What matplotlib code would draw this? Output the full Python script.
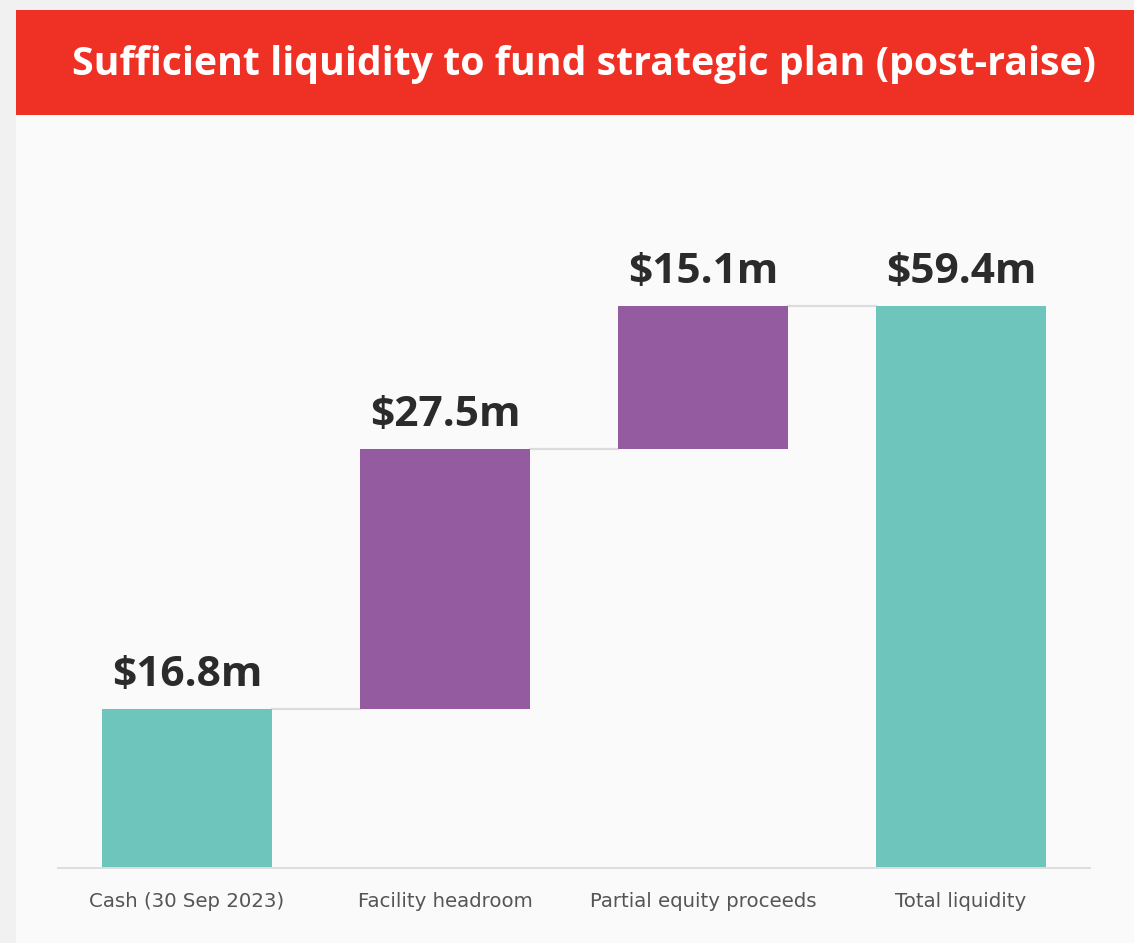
import matplotlib.pyplot as plt
from matplotlib.patches import Rectangle

# data
categories = ['Cash (30 Sep 2023)', 'Facility headroom', 'Partial equity proceeds', 'Total liquidity']
values = [16.8, 27.5, 15.1, 59.4]
kinds = ['total', 'step', 'step', 'total']
labels = ['$16.8m', '$27.5m', '$15.1m', '$59.4m']

teal = '#6dc5bb'
purple = '#955ba1'
red = '#ee3124'

fig = plt.figure(figsize=(11.34, 9.43), dpi=100)
fig.patch.set_facecolor('#fafafa')

# grey frame strips + red header
fig.patches.append(Rectangle((0, 0), 16/1134, 1, transform=fig.transFigure,
                             facecolor='#f1f1f1', edgecolor='none', zorder=-5))
fig.patches.append(Rectangle((0, (943-10)/943), 1, 10/943, transform=fig.transFigure,
                             facecolor='#f1f1f1', edgecolor='none', zorder=-5))
fig.patches.append(Rectangle((16/1134, (943-115)/943), 1, 105/943, transform=fig.transFigure,
                             facecolor=red, edgecolor='none', zorder=-4))
fig.text(72/1134, (943-65)/943, 'Sufficient liquidity to fund strategic plan (post-raise)',
         color='white', fontsize=28.3, fontweight='bold', family='Open Sans',
         ha='left', va='center')

ax = fig.add_axes([58/1134, (943-868)/943, 1032/1134, 662/943])
ax.set_facecolor('none')

# waterfall bottoms
bottoms = []
running = 0
for v, k in zip(values, kinds):
    if k == 'total':
        bottoms.append(0)
        running = v
    else:
        bottoms.append(running)
        running += v
tops = [b + v for b, v in zip(bottoms, values)]
colors = [teal if k == 'total' else purple for k in kinds]

x = range(len(categories))
w = 0.66
ax.bar(x, values, bottom=bottoms, width=w, color=colors, zorder=2)

# connectors
for i in range(len(categories) - 1):
    ax.plot([i + w/2, i + 1 - w/2], [tops[i], tops[i]], color='#dcdcdc', lw=1.6, zorder=1)

for i, t in enumerate(tops):
    ax.annotate(labels[i], (i, t), xytext=(0, 16.5), textcoords='offset points',
                ha='center', va='baseline', fontsize=30.5, fontweight='bold',
                family='Open Sans', color='#2b2b2b')

ax.set_xlim(-0.5, 3.5)
ax.set_ylim(0, 70)
ax.set_yticks([])
ax.set_xticks(list(x))
ax.set_xticklabels(categories, fontsize=14.2, color='#555555', family='DejaVu Sans')
ax.tick_params(axis='x', length=0, pad=17)
for s in ['top', 'left', 'right']:
    ax.spines[s].set_visible(False)
ax.spines['bottom'].set_color('#dedede')
ax.spines['bottom'].set_linewidth(1.4)

fig.savefig('out.png', dpi=100, facecolor=fig.get_facecolor())
